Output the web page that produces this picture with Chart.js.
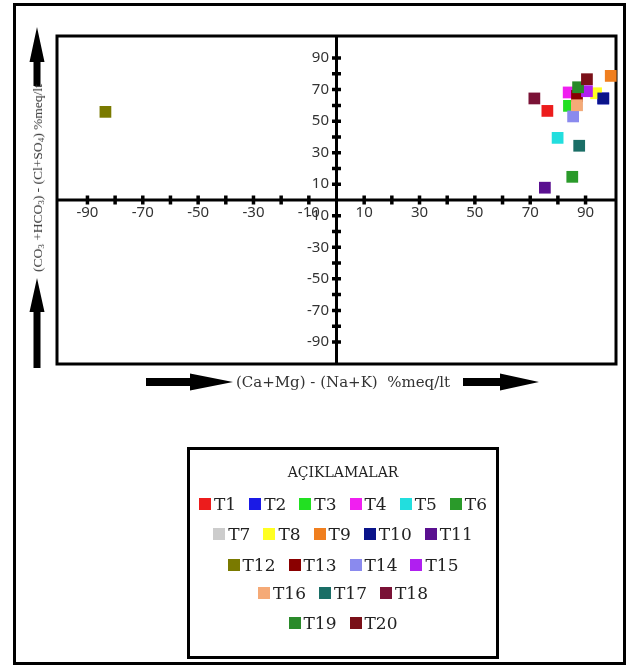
<!DOCTYPE html>
<html>
<head>
<meta charset="utf-8">
<script src="https://cdn.jsdelivr.net/npm/chart.js@4.4.1/dist/chart.umd.min.js"></script>
<style>
  html, body { margin:0; padding:0; background:#fff; width:629px; height:668px; overflow:hidden; }
  #outer { position:absolute; left:13px; top:3px; width:613px; height:662px; border:3px solid #000; box-sizing:border-box; }
  #wrap { position:absolute; left:0; top:0; width:629px; height:668px; }
  #xtitle { position:absolute; left:193px; top:373px; width:300px; text-align:center; white-space:nowrap;
            font-family:"DejaVu Serif", serif; font-size:15px; color:#333; }
  #ytitle { position:absolute; left:38px; top:178px; transform:translate(-50%,-50%) rotate(-90deg); white-space:nowrap;
            font-family:"Liberation Serif", serif; font-size:13.5px; color:#333; }
  #ytitle sub { font-size:9px; vertical-align:-2px; }
  #legend { position:absolute; left:187px; top:447px; width:312px; height:212px; border:3px solid #000; box-sizing:border-box; }
  #ltitle { position:absolute; left:0; right:0; top:14px; text-align:center; font-family:"DejaVu Serif", serif; font-size:14px; color:#222; }
  .lrow { position:absolute; left:0; right:0; display:flex; justify-content:center; gap:13px; font-family:"DejaVu Serif", serif; font-size:17px; color:#222; }
  .litem { display:flex; align-items:center; }
  .lsq { width:12px; height:12px; margin-right:3px; }
</style>
</head>
<body>
<div id="outer"></div>
<div id="wrap"><canvas id="c" width="629" height="668"></canvas></div>
<div id="xtitle">(Ca+Mg) - (Na+K)&nbsp; %meq/lt</div>
<div id="ytitle">(CO<sub>3</sub> +HCO<sub>3</sub>) - (Cl+SO<sub>4</sub>) %meq/lt</div>
<div id="legend"><div id="ltitle">AÇIKLAMALAR</div></div>
<script>
// ---- data ----
const seriesNames = ['T1','T2','T3','T4','T5','T6','T7','T8','T9','T10','T11','T12','T13','T14','T15','T16','T17','T18','T19','T20'];
const seriesColors = ['#ec1c1c','#1a1ae6','#22e022','#f01ff0','#22dede','#2a9a2a','#cccccc','#ffff22','#f07f1f','#0a148a',
                      '#5a1090','#7a7a00','#8a0000','#8a8aee','#b01ff0','#f5aa77','#1a6e66','#7a1236','#2a8a2a','#7a1018'];
const xValues = [76.2, 96.4, 84.0, 83.9, 79.9, 85.2, 86.9, 93.8, 99.1, 96.4, 75.3, -83.5, 86.9, 85.5, 90.5, 86.9, 87.7, 71.5, 87.3, 90.5];
const yValues = [56.5, 64.4, 59.7, 68.2, 39.4, 14.7, 60.1, 67.7, 78.7, 64.4, 7.8, 55.9, 66.0, 53.0, 69.0, 60.1, 34.4, 64.4, 71.5, 76.6];
const tickMarks = [-90,-80,-70,-60,-50,-40,-30,-20,-10,10,20,30,40,50,60,70,80,90];
const tickLabels = [-90,-70,-50,-30,-10,10,30,50,70,90];
const legendRows = [6,5,4,3,2];

// ---- chart ----
const datasets = seriesNames.map((n,i)=>({
  label:n,
  data:[{x:xValues[i], y:yValues[i]}],
  pointStyle:'rect', pointRadius:8.3, pointHoverRadius:8.3,
  backgroundColor:seriesColors[i], borderColor:seriesColors[i], borderWidth:0,
  order:-i, clip:false
}));

const tickFont = {family:'"Noto Sans", sans-serif', size:15};
const decor = {
  id:'decor',
  beforeDatasetsDraw(chart){
    const ctx = chart.ctx, a = chart.chartArea, xs = chart.scales.x, ys = chart.scales.y;
    const x0 = xs.getPixelForValue(0), y0 = ys.getPixelForValue(0);
    ctx.save();
    ctx.strokeStyle = '#000'; ctx.lineWidth = 3;
    ctx.strokeRect(a.left, a.top, a.right-a.left, a.bottom-a.top);
    ctx.beginPath();
    ctx.moveTo(a.left, y0); ctx.lineTo(a.right, y0);
    ctx.moveTo(x0, a.top); ctx.lineTo(x0, a.bottom);
    ctx.stroke();
    ctx.beginPath();
    tickMarks.forEach(v=>{
      const px = xs.getPixelForValue(v); ctx.moveTo(px, y0-4.5); ctx.lineTo(px, y0+4.5);
      const py = ys.getPixelForValue(v); ctx.moveTo(x0-4.5, py); ctx.lineTo(x0+4.5, py);
    });
    ctx.lineWidth = 3.5;
    ctx.stroke();
    ctx.restore();
  },
  afterDraw(chart){
    const ctx = chart.ctx;
    ctx.save(); ctx.fillStyle = '#000';
    function vArrow(cx, tip, headEnd, tail){
      ctx.beginPath();
      ctx.moveTo(cx, tip); ctx.lineTo(cx+7.5, headEnd); ctx.lineTo(cx+3.5, headEnd); ctx.lineTo(cx+3.5, tail);
      ctx.lineTo(cx-3.5, tail); ctx.lineTo(cx-3.5, headEnd); ctx.lineTo(cx-7.5, headEnd); ctx.closePath(); ctx.fill();
    }
    function hArrow(cy, tail, headStart, tip){
      ctx.beginPath();
      ctx.moveTo(tail, cy-4); ctx.lineTo(headStart, cy-4); ctx.lineTo(headStart, cy-8.5); ctx.lineTo(tip, cy);
      ctx.lineTo(headStart, cy+8.5); ctx.lineTo(headStart, cy+4); ctx.lineTo(tail, cy+4); ctx.closePath(); ctx.fill();
    }
    vArrow(37, 27, 62, 86);
    vArrow(37, 278, 312, 368);
    hArrow(382, 146, 190, 233);
    hArrow(382, 463, 500, 539);
    ctx.restore();
  }
};

new Chart(document.getElementById('c'), {
  type:'scatter',
  data:{datasets},
  options:{
    responsive:false, animation:false, events:[],
    layout:{padding:{left:57, top:36, right:13, bottom:304}},
    plugins:{legend:{display:false}, tooltip:{enabled:false}},
    scales:{
      x:{type:'linear', min:-101, max:101, position:{y:0},
         grid:{display:false, drawTicks:false}, border:{display:false},
         afterBuildTicks:s=>{ s.ticks = tickMarks.map(v=>({value:v})); },
         ticks:{autoSkip:false, maxRotation:0, minRotation:0, padding:4, color:'#333', font:tickFont,
                callback:v=> tickLabels.includes(v) ? String(v) : ''}},
      y:{type:'linear', min:-104, max:104, position:{x:0},
         grid:{display:false, drawTicks:false}, border:{display:false},
         afterBuildTicks:s=>{ s.ticks = tickMarks.map(v=>({value:v})); },
         ticks:{autoSkip:false, padding:0, color:'#333', font:tickFont,
                callback:v=> tickLabels.includes(v) ? String(v) + '\u2002' : ''}}
    }
  },
  plugins:[decor]
});

// ---- legend (HTML, from the same arrays) ----
const legend = document.getElementById('legend');
const rowTops = [44, 74, 105, 133, 163];
let k = 0;
legendRows.forEach((cnt, r)=>{
  const row = document.createElement('div');
  row.className = 'lrow'; row.style.top = rowTops[r] + 'px';
  for (let j=0;j<cnt;j++,k++){
    const it = document.createElement('div'); it.className='litem';
    const sq = document.createElement('span'); sq.className='lsq'; sq.style.background = seriesColors[k];
    const tx = document.createElement('span'); tx.textContent = seriesNames[k];
    it.appendChild(sq); it.appendChild(tx); row.appendChild(it);
  }
  legend.appendChild(row);
});
</script>
</body>
</html>
